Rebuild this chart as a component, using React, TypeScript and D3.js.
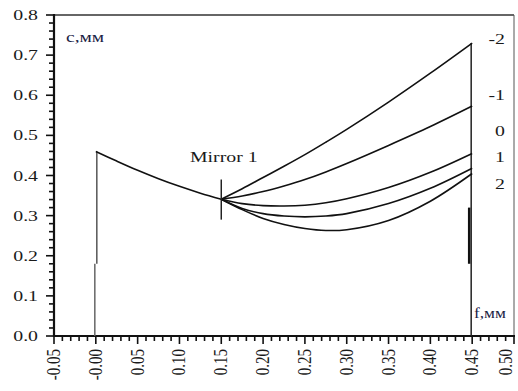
import React, { useEffect, useRef } from 'react';
import * as d3 from 'd3';

// focal line before the mirror
const fBase = [0, 0.025, 0.05, 0.075, 0.1, 0.125, 0.15];
const cBase = [0.46, 0.436, 0.413, 0.392, 0.373, 0.356, 0.341];

// after the mirror, one curve per label
const fAfter = [0.15, 0.175, 0.2, 0.225, 0.25, 0.275, 0.3, 0.35, 0.4, 0.45];
const curveLabels = ['-2', '-1', '0', '1', '2'];
const cM2 = [0.341, 0.367, 0.395, 0.423, 0.452, 0.483, 0.515, 0.583, 0.655, 0.73];
const cM1 = [0.341, 0.349, 0.36, 0.374, 0.39, 0.409, 0.43, 0.475, 0.522, 0.573];
const cZ0 = [0.341, 0.33, 0.325, 0.324, 0.326, 0.332, 0.342, 0.37, 0.408, 0.455];
const cP1 = [0.341, 0.318, 0.305, 0.299, 0.297, 0.299, 0.305, 0.33, 0.368, 0.418];
const cP2 = [0.341, 0.315, 0.293, 0.278, 0.268, 0.263, 0.265, 0.288, 0.336, 0.405];
const labelY = [0.74, 0.6, 0.51, 0.445, 0.38];

// edges and mirror marker
const edgeF = [0, 0.45];
const edgeTop = [0.46, 0.73];
const edgeStep = [0.18, 0.32];
const mirrorF = 0.15;
const mirrorSpan = [0.29, 0.39];

const xTicks = [-0.05, 0, 0.05, 0.1, 0.15, 0.2, 0.25, 0.3, 0.35, 0.4, 0.45, 0.5];
const yTicks = [0, 0.1, 0.2, 0.3, 0.4, 0.5, 0.6, 0.7, 0.8];

const W = 518;
const H = 391;
const SX = 1.32; // the scan is stretched sideways

export default function App() {
  const ref = useRef<SVGSVGElement>(null);

  useEffect(() => {
    const svg = d3.select(ref.current);
    svg.selectAll('*').remove();

    const x = d3.scaleLinear().domain([-0.05, 0.5]).range([54, 514]);
    const y = d3.scaleLinear().domain([0, 0.8]).range([336, 15]);
    const font = '"Liberation Serif", "DejaVu Serif", serif';

    const label = (tx: number, ty: number, s: string, anchor = 'start', size = 15, fill = '#1a1a1a', sx = SX) =>
      svg.append('text')
        .attr('transform', `translate(${tx},${ty}) scale(${sx},1)`)
        .attr('text-anchor', anchor)
        .attr('font-family', font).attr('font-size', size).attr('fill', fill)
        .text(s);

    // frame
    svg.append('line').attr('x1', 54).attr('x2', 514).attr('y1', 15).attr('y2', 15)
      .attr('stroke', '#333').attr('stroke-width', 1.5);
    svg.append('line').attr('x1', 514).attr('x2', 514).attr('y1', 15).attr('y2', 336)
      .attr('stroke', '#555').attr('stroke-width', 1);

    // y axis
    const yAxis = svg.append('g');
    d3.range(0, 0.801, 0.02).forEach(v => {
      const major = yTicks.some(t => Math.abs(t - v) < 1e-6);
      yAxis.append('line').attr('x1', 54).attr('x2', major ? 46 : 49)
        .attr('y1', y(v)).attr('y2', y(v)).attr('stroke', '#111').attr('stroke-width', 1.6);
    });
    yTicks.forEach(t => label(38, y(t) + 5, t.toFixed(1), 'end', 15));
    yAxis.append('line').attr('x1', 54).attr('x2', 54).attr('y1', 14).attr('y2', 337)
      .attr('stroke', '#111').attr('stroke-width', 2.2);

    // x axis
    const xAxis = svg.append('g');
    d3.range(-0.05, 0.501, 0.01).forEach(v => {
      const major = xTicks.some(t => Math.abs(t - v) < 1e-6);
      xAxis.append('line').attr('x1', x(v)).attr('x2', x(v))
        .attr('y1', 336).attr('y2', major ? 344 : 341).attr('stroke', '#111').attr('stroke-width', 1.6);
    });
    xTicks.forEach(t => {
      const lab = t === 0 ? '-0.00' : t.toFixed(2);
      const px = Math.min(x(t) + 6, 512);
      xAxis.append('text')
        .attr('transform', `translate(${px},349) rotate(-90) scale(1,${SX})`)
        .attr('text-anchor', 'end')
        .attr('font-family', font).attr('font-size', 15).attr('fill', '#1a1a1a')
        .text(lab);
    });
    xAxis.append('line').attr('x1', 53).attr('x2', 515).attr('y1', 336).attr('y2', 336)
      .attr('stroke', '#111').attr('stroke-width', 2.2);

    const line = d3.line<[number, number]>()
      .x(d => x(d[0])).y(d => y(d[1]))
      .curve(d3.curveCatmullRom.alpha(0.5));

    // edges
    svg.append('line').attr('x1', x(edgeF[0]) - 1).attr('x2', x(edgeF[0]) - 1)
      .attr('y1', y(0)).attr('y2', y(edgeStep[0])).attr('stroke', '#666').attr('stroke-width', 1.5);
    svg.append('line').attr('x1', x(edgeF[0]) + 1).attr('x2', x(edgeF[0]) + 1)
      .attr('y1', y(edgeStep[0])).attr('y2', y(edgeTop[0])).attr('stroke', '#555').attr('stroke-width', 1.5);
    svg.append('line').attr('x1', x(edgeF[1]) - 1).attr('x2', x(edgeF[1]) - 1)
      .attr('y1', y(0)).attr('y2', y(edgeTop[1])).attr('stroke', '#222').attr('stroke-width', 1.5);
    svg.append('line').attr('x1', x(edgeF[1]) - 3).attr('x2', x(edgeF[1]) - 3)
      .attr('y1', y(edgeStep[0])).attr('y2', y(edgeStep[1])).attr('stroke', '#111').attr('stroke-width', 2.5);

    // curves
    const g = svg.append('g').attr('fill', 'none').attr('stroke', '#111').attr('stroke-width', 1.6);
    g.append('path').attr('d', line(fBase.map((f, i) => [f, cBase[i]] as [number, number])));
    [cM2, cM1, cZ0, cP1, cP2].forEach(series => {
      g.append('path').attr('d', line(fAfter.map((f, i) => [f, series[i]] as [number, number])));
    });

    // mirror marker
    svg.append('line').attr('x1', x(mirrorF)).attr('x2', x(mirrorF))
      .attr('y1', y(mirrorSpan[0])).attr('y2', y(mirrorSpan[1])).attr('stroke', '#222').attr('stroke-width', 1.5);
    label(190, 162, 'Mirror 1', 'start', 15);

    // curve labels
    curveLabels.forEach((l, i) => label(505, y(labelY[i]) + 5, l, 'end', 15));

    // axis titles
    label(66, 42, 'с,мм', 'start', 15, '#1a2244', 1.3);
    label(474, 318, 'f,мм', 'start', 15, '#1a2244', 1.15);
  }, []);

  return (
    <svg ref={ref} width={W} height={H}
      style={{ position: 'absolute', left: 0, top: 0, background: '#fff' }} />
  );
}
